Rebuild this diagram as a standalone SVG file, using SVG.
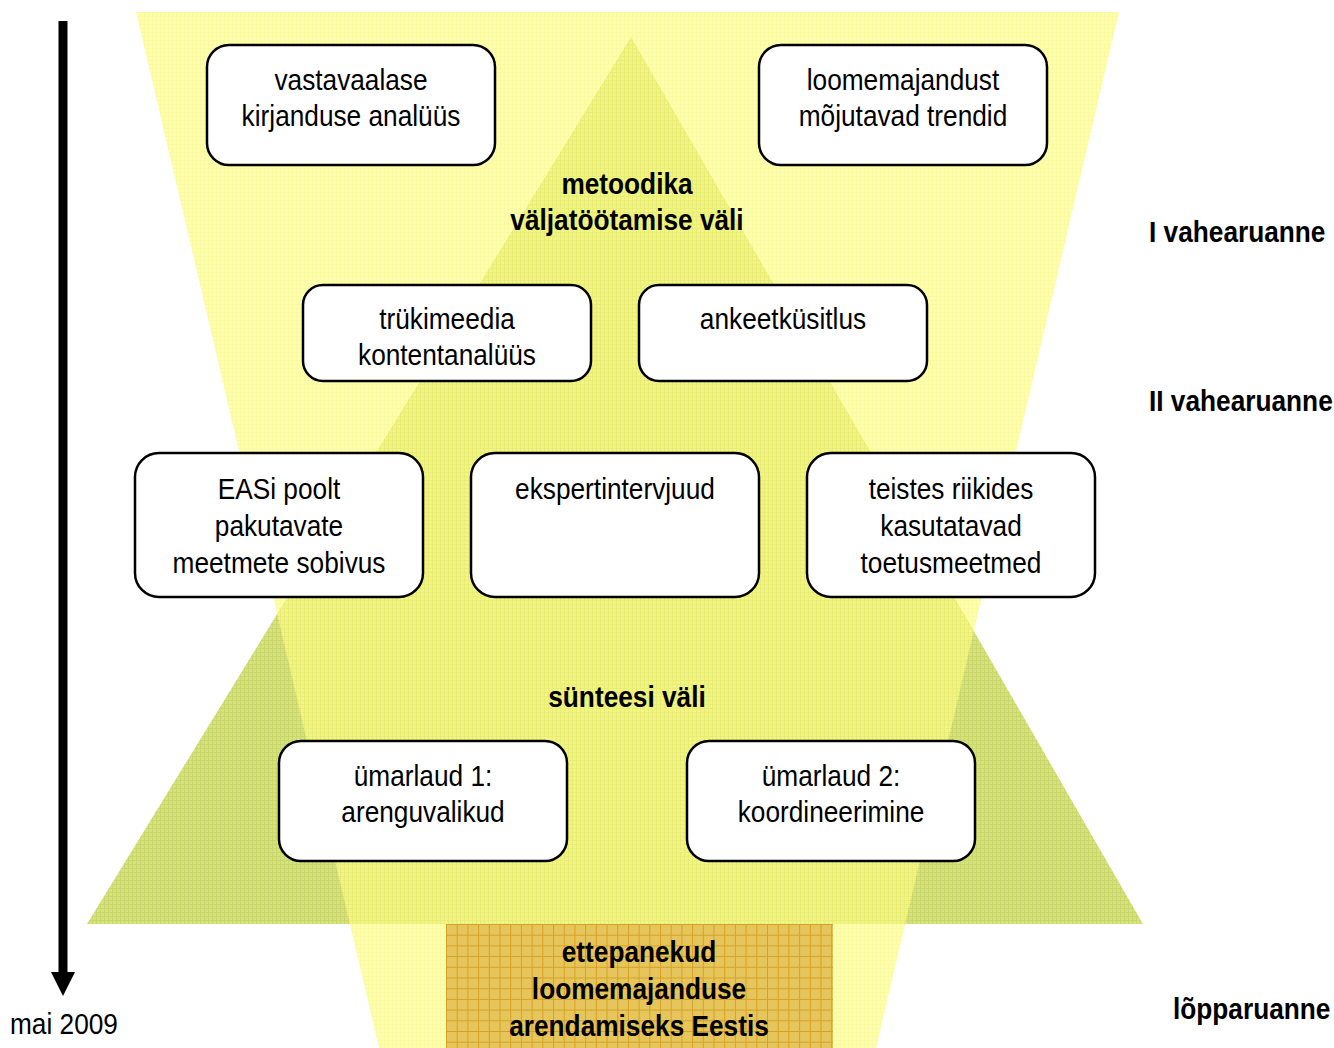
<svg xmlns="http://www.w3.org/2000/svg" width="1334" height="1048" viewBox="0 0 1334 1048">
<defs>
<style>
.t{font-family:"Liberation Sans",Arial,sans-serif;font-size:30px;fill:#000;text-anchor:middle}
.b{font-weight:bold}
.box{fill:#fff;stroke:#000;stroke-width:2.5}
</style>
<pattern id="pGreen" width="4" height="4" patternUnits="userSpaceOnUse">
<rect width="4" height="4" fill="#D8E182"/>
<path d="M0 0.5H4M0.5 0V4" stroke="#CAD86A" stroke-width="1"/>
</pattern>
<pattern id="pYellow" width="4" height="4" patternUnits="userSpaceOnUse">
<rect width="4" height="4" fill="#FDFD8C"/>
<path d="M0 0.5H4M0.5 0V4" stroke="#F7F775" stroke-width="1"/>
</pattern>
<pattern id="pOrange" x="446" y="924" width="10.7" height="10.7" patternUnits="userSpaceOnUse">
<rect width="10.7" height="10.7" fill="#E5C55C"/>
<path d="M0 0.5H10.7M0.5 0V10.7" stroke="#D6A222" stroke-width="1"/>
</pattern>
</defs>
<rect width="1334" height="1048" fill="#fff"/>
<g id="background">
<polygon id="pyramid" points="631,37 1143,924 87,924" fill="url(#pGreen)"/>
<polygon id="funnel" points="136,12 1119,12 876,1048 379,1048" fill="url(#pYellow)" opacity="0.68"/>
</g>
<g id="timeline">
<rect x="58.5" y="21" width="9" height="955" fill="#000"/>
<polygon points="51,972 75,972 63,996" fill="#000"/>
</g>
<g id="connectors"></g>
<g id="n1"><rect class="box" x="207" y="45" width="288" height="120" rx="22"/>
<text class="t" transform="translate(351 0) scale(0.875 1)"><tspan x="0" y="90">vastavaalase</tspan><tspan x="0" y="126">kirjanduse analüüs</tspan></text></g>
<g id="n2"><rect class="box" x="759" y="45" width="288" height="120" rx="22"/>
<text class="t" transform="translate(903 0) scale(0.875 1)"><tspan x="0" y="90">loomemajandust</tspan><tspan x="0" y="126">mõjutavad trendid</tspan></text></g>
<g id="lbl1"><text class="t b" transform="translate(627 0) scale(0.875 1)"><tspan x="0" y="194">metoodika</tspan><tspan x="0" y="230">väljatöötamise väli</tspan></text></g>
<g id="n3"><rect class="box" x="303" y="285" width="288" height="96" rx="20"/>
<text class="t" transform="translate(447 0) scale(0.875 1)"><tspan x="0" y="329">trükimeedia</tspan><tspan x="0" y="365">kontentanalüüs</tspan></text></g>
<g id="n4"><rect class="box" x="639" y="285" width="288" height="96" rx="20"/>
<text class="t" transform="translate(783 0) scale(0.875 1)"><tspan x="0" y="329">ankeetküsitlus</tspan></text></g>
<g id="n5"><rect class="box" x="135" y="453" width="288" height="144" rx="24"/>
<text class="t" transform="translate(279 0) scale(0.875 1)"><tspan x="0" y="499">EASi poolt</tspan><tspan x="0" y="536">pakutavate</tspan><tspan x="0" y="573">meetmete sobivus</tspan></text></g>
<g id="n6"><rect class="box" x="471" y="453" width="288" height="144" rx="24"/>
<text class="t" transform="translate(615 0) scale(0.875 1)"><tspan x="0" y="499">ekspertintervjuud</tspan></text></g>
<g id="n7"><rect class="box" x="807" y="453" width="288" height="144" rx="24"/>
<text class="t" transform="translate(951 0) scale(0.875 1)"><tspan x="0" y="499">teistes riikides</tspan><tspan x="0" y="536">kasutatavad</tspan><tspan x="0" y="573">toetusmeetmed</tspan></text></g>
<g id="lbl2"><text class="t b" transform="translate(627 0) scale(0.875 1)" x="0" y="707">sünteesi väli</text></g>
<g id="n8"><rect class="box" x="279" y="741" width="288" height="120" rx="22"/>
<text class="t" transform="translate(423 0) scale(0.875 1)"><tspan x="0" y="786">ümarlaud 1:</tspan><tspan x="0" y="822">arenguvalikud</tspan></text></g>
<g id="n9"><rect class="box" x="687" y="741" width="288" height="120" rx="22"/>
<text class="t" transform="translate(831 0) scale(0.875 1)"><tspan x="0" y="786">ümarlaud 2:</tspan><tspan x="0" y="822">koordineerimine</tspan></text></g>
<g id="n10"><rect x="446" y="924" width="387" height="124" fill="url(#pOrange)"/>
<text class="t b" transform="translate(639 0) scale(0.875 1)"><tspan x="0" y="962">ettepanekud</tspan><tspan x="0" y="999">loomemajanduse</tspan><tspan x="0" y="1036">arendamiseks Eestis</tspan></text></g>
<g id="side">
<text class="t b" style="text-anchor:start" transform="translate(1149 0) scale(0.875 1)" x="0" y="242">I vahearuanne</text>
<text class="t b" style="text-anchor:start" transform="translate(1149 0) scale(0.875 1)" x="0" y="411">II vahearuanne</text>
<text class="t b" style="text-anchor:start" transform="translate(1173 0) scale(0.875 1)" x="0" y="1019">lõpparuanne</text>
<text class="t" style="text-anchor:start" transform="translate(10 0) scale(0.875 1)" x="0" y="1034">mai 2009</text>
</g>
</svg>
